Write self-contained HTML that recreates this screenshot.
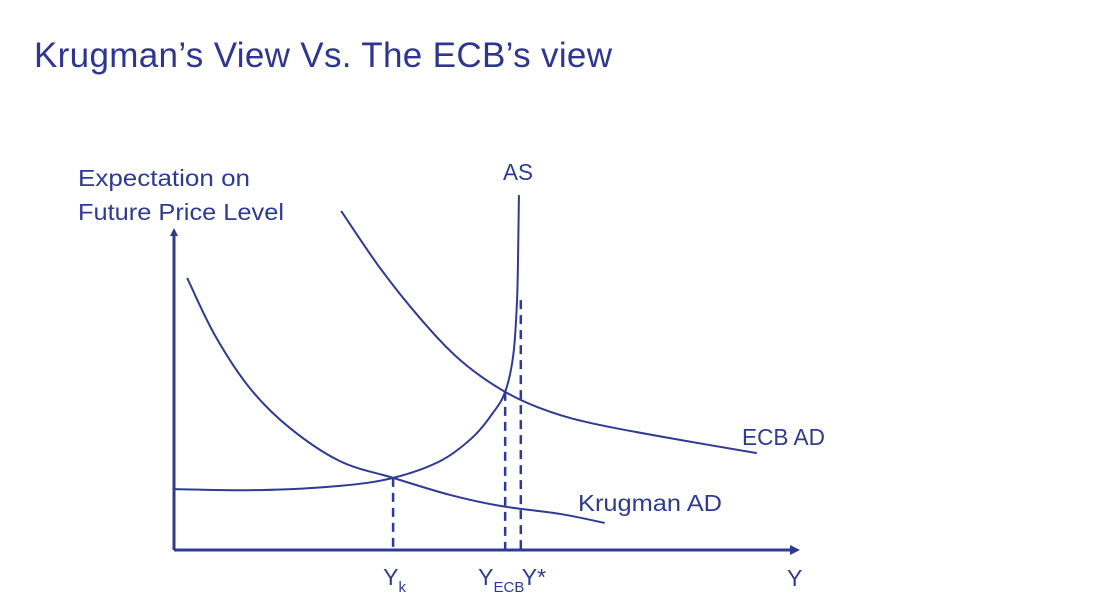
<!DOCTYPE html>
<html><head><meta charset="utf-8"><style>
body{margin:0;background:#fff;width:1100px;height:608px;overflow:hidden;font-family:"Liberation Sans",sans-serif}
</style></head><body>
<svg id="c" width="1100" height="608">
<text x="34" y="67" font-size="35" textLength="578" fill="#2e3592">Krugman’s View Vs. The ECB’s view</text>
</svg>
<script>
const ns="http://www.w3.org/2000/svg";
const svg=document.getElementById('c');
// data in axis units: x 0..100, y 0..100
const asCurve=[[0,18.9],[13.7,18.6],[26.5,19.9],[35,22.4],[42.5,27.6],[47.6,34.8],[50.8,42.2],[52.9,49.1],[54.2,60.6],[54.8,77.6],[55.0,96.3],[55.1,110.2]];
const krugmanAD=[[2.1,84.5],[6.5,66.8],[12.1,50.3],[18.5,37.9],[26.5,27.6],[35,22.4],[44.1,17.1],[52.1,13.7],[61.7,11.2],[68.8,8.4]];
const ecbAD=[[26.7,105.3],[32.9,87.6],[39.3,72],[45.7,59],[52.9,49.1],[60.1,42.9],[68.1,38.8],[80.8,34.2],[93.1,30.1]];
const markerX=[35,52.9,55.4];
const markerTop=[22.4,49.1,77.6];
const markerLabels=["Y","Y","Y*"];
const markerSubs=["k","ECB",""];
const X0=174,X1=800,Y0=550,Y1=228;
const sx=v=>X0+(X1-X0)*v/100, sy=v=>Y0-(Y0-Y1)*v/100;
const col="#2f3a93";
function el(t,a){const e=document.createElementNS(ns,t);for(const k in a)e.setAttribute(k,a[k]);svg.appendChild(e);return e;}
function smooth(pts){const p=pts.map(d=>[sx(d[0]),sy(d[1])]);let s=`M${p[0][0]},${p[0][1]}`;
for(let i=0;i<p.length-1;i++){const a=p[Math.max(i-1,0)],b=p[i],c=p[i+1],d=p[Math.min(i+2,p.length-1)];
s+=` C${b[0]+(c[0]-a[0])/6},${b[1]+(c[1]-a[1])/6} ${c[0]-(d[0]-b[0])/6},${c[1]-(d[1]-b[1])/6} ${c[0]},${c[1]}`;}return s;}
let e;
e=el('path',{d:`M${X0},${Y0} H${X1-6}`,stroke:col,'stroke-width':3,fill:'none'});


e=el('path',{d:`M${X1},${Y0} l-10,-5 v10 z`,fill:col});


e=el('path',{d:`M${X0},${Y0} V${Y1+4}`,stroke:col,'stroke-width':3,fill:'none'});


e=el('path',{d:`M${X0},${Y1} l-4,8 h8 z`,fill:col});


[[asCurve,'as-curve'],[krugmanAD,'krugman-ad-curve'],[ecbAD,'ecb-ad-curve']].forEach(([d,n])=>{
 const p=el('path',{d:smooth(d),stroke:col,'stroke-width':2,fill:'none'});
 
 
});
markerX.forEach((x,i)=>{
 const l=el('line',{x1:sx(x),x2:sx(x),y1:sy(markerTop[i]),y2:Y0,stroke:col,'stroke-width':2.5,'stroke-dasharray':'9,6'});
 
 
});
function txt(x,y,s,size,n,len){const a={x:x,y:y,'font-size':size,fill:col};if(len){a.textLength=len;a.lengthAdjust='spacingAndGlyphs';}
 const t=el('text',a);t.textContent=s;
 
 return t;}
const sub=[[sx(markerX[0])-10,585],[sx(markerX[1])-27,585],[sx(markerX[2])+1,585]];
markerX.forEach((x,i)=>{
 const t=el('text',{x:sub[i][0],y:sub[i][1],'font-size':23,fill:col});
 
 
 t.appendChild(document.createTextNode(markerLabels[i]));
 if(markerSubs[i]){const ts=document.createElementNS(ns,'tspan');ts.setAttribute('font-size',15);ts.setAttribute('dy',7);ts.textContent=markerSubs[i];t.appendChild(ts);}
});
txt(787,586,'Y',23,'x-axis-title');
txt(78,186,'Expectation on',23,'y-axis-title-line1',172);
txt(78,220,'Future Price Level',23,'y-axis-title-line2',206);
txt(503,180,'AS',23,'as-label',30);
txt(742,445,'ECB AD',23,'ecb-ad-label',83);
txt(578,511,'Krugman AD',23,'krugman-ad-label',144);
</script>
</body></html>
